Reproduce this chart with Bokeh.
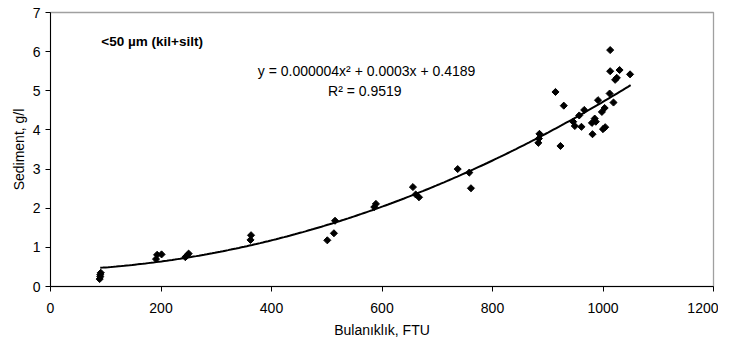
import numpy as np
from bokeh.plotting import figure
from bokeh.models import Label, Range1d, FixedTicker
from bokeh.embed import file_html
from bokeh.resources import INLINE

# Turbidity (FTU) vs sediment (g/l)
ftu = [89, 90, 90, 91,
       191, 193, 201,
       244, 247, 250,
       362, 363,
       501, 513, 515,
       586, 589,
       656, 661, 667,
       737, 758, 761,
       883, 884, 885,
       914, 923, 929,
       946, 949, 957, 961, 966,
       980, 981, 985, 987, 991, 998, 1000, 1003, 1004,
       1012, 1013, 1013, 1019, 1022, 1025, 1030, 1049]
sediment = [0.19, 0.25, 0.30, 0.35,
            0.70, 0.81, 0.82,
            0.75, 0.79, 0.84,
            1.19, 1.31,
            1.18, 1.36, 1.68,
            2.03, 2.11,
            2.54, 2.35, 2.28,
            3.00, 2.91, 2.51,
            3.67, 3.78, 3.90,
            4.97, 3.59, 4.62,
            4.21, 4.10, 4.37, 4.08, 4.51,
            4.18, 3.89, 4.29, 4.21, 4.76, 4.46, 4.02, 4.56, 4.07,
            4.93, 5.50, 6.04, 4.70, 5.28, 5.33, 5.53, 5.42]

# Trendline coefficients (as printed on the chart)
a2, a1, a0 = 0.000004, 0.0003, 0.4189
fit_min, fit_max = 90, 1050

x_ticks = [0, 200, 400, 600, 800, 1000, 1200]
y_ticks = [0, 1, 2, 3, 4, 5, 6, 7]

FONT = "Liberation Sans"

p = figure(width=718, height=340, output_backend="svg", toolbar_location=None,
           x_range=Range1d(0, 1200), y_range=Range1d(0, 7),
           min_border_left=50, min_border_right=5, min_border_top=12,
           min_border_bottom=49)
p.background_fill_color = "white"
p.border_fill_color = "white"
p.outline_line_color = "#a0a0a0"
p.outline_line_width = 1.3
p.xgrid.visible = False
p.ygrid.visible = False

for ax in (p.xaxis[0], p.yaxis[0]):
    ax.axis_line_color = "black"
    ax.axis_line_width = 1
    ax.major_tick_line_color = "black"
    ax.major_tick_out = 5
    ax.major_tick_in = 0
    ax.minor_tick_line_color = None
    ax.major_label_text_font = FONT
    ax.major_label_text_font_size = "14px"
    ax.major_label_text_color = "black"
    ax.axis_label_text_font = FONT
    ax.axis_label_text_font_size = "14px"
    ax.axis_label_text_font_style = "normal"
    ax.axis_label_text_color = "black"

p.xaxis.ticker = FixedTicker(ticks=x_ticks)
p.yaxis.ticker = FixedTicker(ticks=y_ticks)
p.xaxis.axis_label = "Bulanıklık, FTU"
p.yaxis.axis_label = "Sediment, g/l"
p.xaxis.major_label_standoff = 11
p.yaxis.major_label_standoff = 5
p.xaxis.axis_label_standoff = 6
p.yaxis.axis_label_standoff = 3

xf = np.linspace(fit_min, fit_max, 200)
yf = a2 * xf ** 2 + a1 * xf + a0
p.line(xf, yf, line_color="black", line_width=2)

p.scatter(ftu, sediment, marker="square", size=5, angle=np.pi / 4,
          fill_color="black", line_color="black", line_width=1)

p.add_layout(Label(x=92, y=6.26, text="<50 µm (kil+silt)", text_font=FONT,
                   text_font_size="13.5px", text_font_style="bold",
                   text_align="left", text_baseline="middle", text_color="black"))
p.add_layout(Label(x=572, y=5.50, text="y = 0.000004x² + 0.0003x + 0.4189",
                   text_font=FONT, text_font_size="14px", text_align="center",
                   text_baseline="middle", text_color="black"))
p.add_layout(Label(x=569, y=5.00, text="R² = 0.9519",
                   text_font=FONT, text_font_size="14px", text_align="center",
                   text_baseline="middle", text_color="black"))

open("out.html", "w").write(file_html(p, INLINE))
